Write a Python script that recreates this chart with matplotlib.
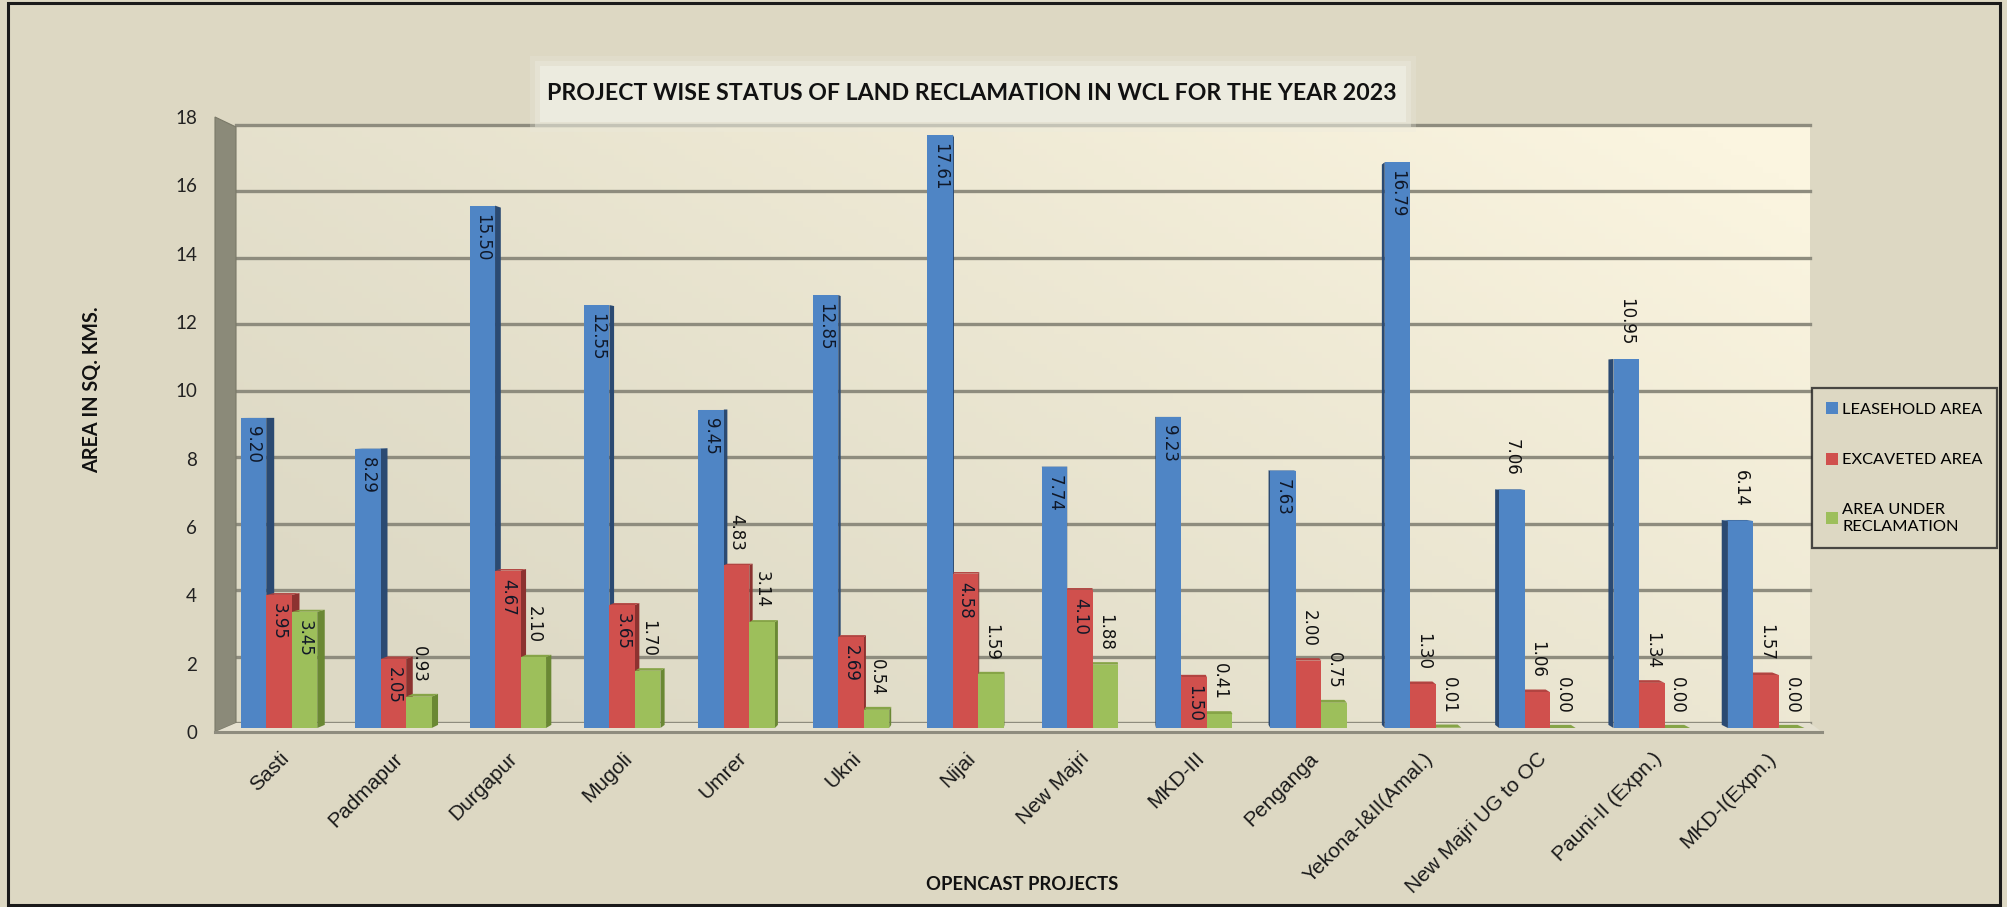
import numpy as np
import matplotlib
matplotlib.use("Agg")
import matplotlib.pyplot as plt
from matplotlib.patches import Polygon, Rectangle, Patch

# ---------------- data ----------------
projects = ["Sasti", "Padmapur", "Durgapur", "Mugoli", "Umrer", "Ukni", "Nijai",
            "New Majri", "MKD-III", "Penganga", "Yekona-I&II(Amal.)",
            "New Majri UG to OC", "Pauni-II (Expn.)", "MKD-I(Expn.)"]
leasehold = [9.20, 8.29, 15.50, 12.55, 9.45, 12.85, 17.61, 7.74, 9.23, 7.63, 16.79, 7.06, 10.95, 6.14]
excavated = [3.95, 2.05, 4.67, 3.65, 4.83, 2.69, 4.58, 4.10, 1.50, 2.00, 1.30, 1.06, 1.34, 1.57]
reclaimed = [3.45, 0.93, 2.10, 1.70, 3.14, 0.54, 1.59, 1.88, 0.41, 0.75, 0.01, 0.00, 0.00, 0.00]
series_names = ["LEASEHOLD AREA", "EXCAVETED AREA", "AREA UNDER\nRECLAMATION"]
y_ticks = [0, 2, 4, 6, 8, 10, 12, 14, 16, 18]
title = "PROJECT WISE STATUS OF LAND RECLAMATION IN WCL FOR THE YEAR 2023"
x_title = "OPENCAST PROJECTS"
y_title = "AREA IN SQ. KMS."

# label placement (True = inside the bar top)
leasehold_inside = [True] * 11 + [False] * 3
excavated_inside = [True, True, True, True, False, True, True, True, True,
                    False, False, False, False, False]
reclaimed_inside = [True] + [False] * 13

# ---------------- style / layout ----------------
W, H = 2007, 907
BG = "#ddd8c3"
front_cols = ["#4f85c5", "#d0504d", "#9dbf5b"]
side_cols = ["#2b4a72", "#8c3230", "#6a8834"]
top_cols = ["#4471a8", "#b24441", "#86a447"]

def fx(px):
    return px / W

def fy(py):
    return 1 - py / H

# planes (pixel rows from top)
BACK_L, BACK_R, BACK_Y0, BACK_Y18 = 236, 1810, 723, 125
BAR_Y0, BAR_SCALE = 728, 33.7
FRONT_L, FRONT_R, FRONT_Y0, FRONT_Y18 = 215, 1822, 732, 117
G0, GSTEP = 279, 114.4            # group centre of first group and spacing in px
VP_X, VP_Y, DEPTH = 1088, 407, 0.0097  # vanishing point & bar depth fraction

xlim = ((BACK_L - G0) / GSTEP, (BACK_R - G0) / GSTEP)
bar_top_px = BAR_Y0 - 18 * BAR_SCALE

fig = plt.figure(figsize=(W / 100, H / 100), dpi=100)
fig.patch.set_facecolor(BG)

# back wall axes (gradient + gridlines)
ax_b = fig.add_axes([fx(BACK_L), fy(BACK_Y0), fx(BACK_R) - fx(BACK_L),
                     (BACK_Y0 - BACK_Y18) / H], zorder=0)
ax_b.set_xlim(0, 1)
ax_b.set_ylim(0, 18)
ax_b.axis("off")
gx, gy = np.meshgrid(np.linspace(0, 1, 200), np.linspace(0, 1, 100))
t = np.clip(0.7 * gx + 0.45 * gy - 0.1, 0, 1) ** 1.2
c0 = np.array([0xdd, 0xd9, 0xc5]) / 255
c1 = np.array([0xfb, 0xf5, 0xe0]) / 255
img = c0[None, None, :] * (1 - t[..., None]) + c1[None, None, :] * t[..., None]
ax_b.imshow(img, extent=(0, 1, 0, 18), origin="lower", aspect="auto", zorder=0)
for v in y_ticks:
    ax_b.axhline(v, color="#8e8c7e", lw=2.4, clip_on=False, zorder=1)

# wall & floor (frame decorations)
wall = Polygon([(fx(FRONT_L), fy(FRONT_Y18)), (fx(BACK_L), fy(BACK_Y18 + 2)),
                (fx(BACK_L), fy(BACK_Y0)), (fx(FRONT_L), fy(FRONT_Y0))],
               closed=True, transform=fig.transFigure, facecolor="#8b8a79",
               edgecolor="#7a7968", lw=0.8, zorder=1)
fig.add_artist(wall)
floor = Polygon([(fx(FRONT_L), fy(FRONT_Y0)), (fx(BACK_L), fy(BACK_Y0)),
                 (fx(BACK_R), fy(BACK_Y0)), (fx(FRONT_R), fy(FRONT_Y0))],
                closed=True, transform=fig.transFigure, facecolor="#e4e0cf",
                edgecolor="none", zorder=1)
fig.add_artist(floor)
fig.add_artist(plt.Line2D([fx(FRONT_L), fx(FRONT_R)], [fy(FRONT_Y0), fy(FRONT_Y0)],
                          transform=fig.transFigure, color="#8e8c7e", lw=2.2, zorder=1))

# front axes for y tick labels
ax_f = fig.add_axes([fx(FRONT_L), fy(FRONT_Y0), fx(FRONT_R) - fx(FRONT_L),
                     (FRONT_Y0 - FRONT_Y18) / H], zorder=1.5)
ax_f.patch.set_visible(False)
for s in ax_f.spines.values():
    s.set_visible(False)
ax_f.set_ylim(0, 18)
ax_f.set_yticks(y_ticks)
ax_f.set_yticklabels([str(v) for v in y_ticks], fontfamily="Lato", fontsize=13.5, color="#222222")
ax_f.set_xticks([])
ax_f.tick_params(axis="y", length=0, pad=13)

# bar axes
ax_m = fig.add_axes([fx(BACK_L), fy(BAR_Y0), fx(BACK_R) - fx(BACK_L),
                     (BAR_Y0 - bar_top_px) / H], zorder=3)
ax_m.patch.set_visible(False)
for s in ax_m.spines.values():
    s.set_visible(False)
ax_m.set_xlim(*xlim)
ax_m.set_ylim(0, 18)
ax_m.set_yticks([])

xv = (VP_X - G0) / GSTEP
yv = (BAR_Y0 - VP_Y) / BAR_SCALE

def back(x, y):
    return (x + DEPTH * (xv - x), y + DEPTH * (yv - y))

bw = 0.223
series = [leasehold, excavated, reclaimed]
inside = [leasehold_inside, excavated_inside, reclaimed_inside]
idx = np.arange(len(projects))
px_y = 1.0 / BAR_SCALE  # data units per pixel (y)

for j, vals in enumerate(series):
    lefts = idx - 1.5 * bw + j * bw
    # side & top faces
    for xl, v in zip(lefts, vals):
        xr = xl + bw
        if xv > xr:
            pts = [(xr, 0), (xr, v), back(xr, v), back(xr, 0)]
            ax_m.add_patch(Polygon(pts, closed=True, facecolor=side_cols[j],
                                   edgecolor="none", zorder=2, clip_on=False))
        elif xv < xl:
            pts = [(xl, 0), (xl, v), back(xl, v), back(xl, 0)]
            ax_m.add_patch(Polygon(pts, closed=True, facecolor=side_cols[j],
                                   edgecolor="none", zorder=2, clip_on=False))
        if v < yv:
            pts = [(xl, v), (xr, v), back(xr, v), back(xl, v)]
            ax_m.add_patch(Polygon(pts, closed=True, facecolor=top_cols[j],
                                   edgecolor="none", zorder=2.5, clip_on=False))
    ax_m.bar(lefts, vals, width=bw, align="edge", color=front_cols[j],
             edgecolor="none", zorder=3, label=series_names[j])
    for xl, v, ins in zip(lefts, vals, inside[j]):
        xc = xl + bw / 2
        if ins:
            ax_m.text(xc, v - 8 * px_y, f"{v:.2f}", rotation=270, ha="center", va="top",
                      fontsize=12, fontfamily="DejaVu Sans", color="#101828", zorder=5)
        else:
            ax_m.text(xc, v + 14 * px_y, f"{v:.2f}", rotation=270, ha="center", va="bottom",
                      fontsize=12, fontfamily="DejaVu Sans", color="#111111", zorder=5)

ax_m.set_xticks(idx)
ax_m.set_xticklabels(projects, rotation=45, ha="right", rotation_mode="anchor",
                     fontsize=15, fontfamily=["Liberation Sans Narrow", "Liberation Sans"],
                     color="#1a1a1a")
ax_m.tick_params(axis="x", length=0, pad=15)

# title box
for pad, a in [(10, 0.25), (5, 0.45)]:
    fig.add_artist(Rectangle((fx(540 - pad), fy(122 + pad)), fx(866 + 2 * pad), (56 + 2 * pad) / H,
                             transform=fig.transFigure, facecolor="#ecebdf", alpha=a,
                             edgecolor="none", zorder=1))
fig.add_artist(Rectangle((fx(540), fy(122)), fx(866), 56 / H, transform=fig.transFigure,
                         facecolor="#ecebdf", edgecolor="none", zorder=1))
renderer = fig.canvas.get_renderer()

def fit(txt, target, axis="w"):
    bb = txt.get_window_extent(renderer)
    size = bb.width if axis == "w" else bb.height
    txt.set_fontsize(txt.get_fontsize() * target / size)

tt = fig.text(fx(972), fy(94), title, ha="center", va="center", fontsize=18,
              fontweight="bold", fontfamily="Lato", color="#111111", zorder=2)
fit(tt, 847)

yl = fig.text(fx(92), fy(390), y_title, rotation=90, ha="center", va="center", fontsize=15,
              fontweight="bold", fontfamily="Lato", color="#111111")
fit(yl, 166, "h")
xlab = fig.text(fx(1022), fy(885), x_title, ha="center", va="center",
                fontsize=15, fontweight="bold", fontfamily="Lato", color="#111111")
fit(xlab, 192)

# legend
handles = [Patch(facecolor=c, edgecolor="none") for c in front_cols]
leg = fig.legend(handles, series_names, loc="upper left",
                 bbox_to_anchor=(fx(1812), fy(388)), frameon=True, fancybox=False,
                 prop={"family": "Lato", "size": 11.8}, handlelength=0.75, handleheight=0.75,
                 handletextpad=0.25, labelspacing=2.2, borderpad=0.85, borderaxespad=0)
leg.get_frame().set_edgecolor("#222222")
leg.get_frame().set_facecolor(BG)
leg.get_frame().set_linewidth(1.6)
leg.set_zorder(6)

# outer border
fig.add_artist(Rectangle((fx(8), fy(905)), fx(1992), 902 / H, transform=fig.transFigure,
                         facecolor="none", edgecolor="#1a1a1a", lw=2.2, zorder=10))

fig.savefig("out.png", dpi=100, facecolor=BG)
